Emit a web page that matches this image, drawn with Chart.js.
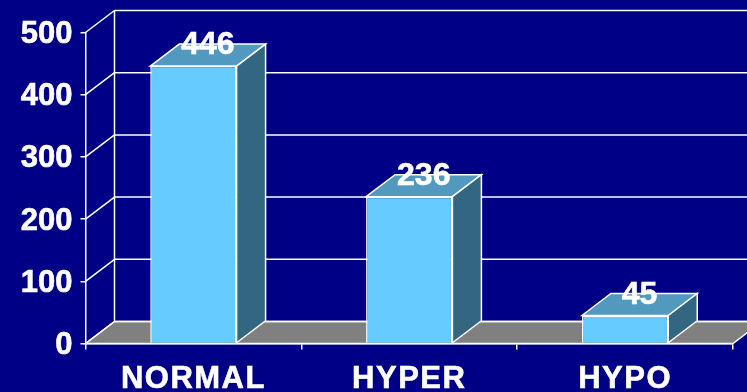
<!DOCTYPE html>
<html>
<head>
<meta charset="utf-8">
<style>
  html, body { margin: 0; padding: 0; background: #000086; overflow: hidden; }
  canvas { display: block; }
</style>
<script src="https://cdn.jsdelivr.net/npm/chart.js@4"></script>
</head>
<body>
<canvas id="kidneyChart" width="747" height="392"></canvas>
<script>
const categories = ['NORMAL', 'HYPER', 'HYPO'];
const counts = [446, 236, 45];
const yTicks = [0, 100, 200, 300, 400, 500];

// how far the back wall sits from the front plane
const DEPTH_X = 29;
const DEPTH_Y = -22;
const FONT = 'bold 32px "Liberation Sans", Arial, sans-serif';

function line(ctx, x1, y1, x2, y2) {
    ctx.beginPath();
    ctx.moveTo(x1, y1);
    ctx.lineTo(x2, y2);
    ctx.stroke();
}

function poly(ctx, pts) {
    ctx.beginPath();
    pts.forEach((p, i) => i ? ctx.lineTo(p[0], p[1]) : ctx.moveTo(p[0], p[1]));
    ctx.closePath();
    ctx.fill();
    ctx.stroke();
}

const box3d = {
    id: 'box3d',
    // floor and back wall go under the axes
    beforeDraw(chart) {
        const { ctx, scales: { x, y } } = chart;
        const left = x.left, right = x.right;
        const y0 = y.getPixelForValue(0);
        const yTop = y.getPixelForValue(yTicks[yTicks.length - 1]);
        ctx.save();
        ctx.strokeStyle = '#fff';
        ctx.lineWidth = 1.5;
        ctx.fillStyle = '#808080';
        poly(ctx, [[left, y0], [left + DEPTH_X, y0 + DEPTH_Y], [right + DEPTH_X, y0 + DEPTH_Y], [right, y0]]);
        yTicks.forEach(v => {
            const py = y.getPixelForValue(v);
            line(ctx, left, py, left + DEPTH_X, py + DEPTH_Y);
            line(ctx, left + DEPTH_X, py + DEPTH_Y, right + DEPTH_X, py + DEPTH_Y);
        });
        line(ctx, left + DEPTH_X, yTop + DEPTH_Y, left + DEPTH_X, y0 + DEPTH_Y);
        ctx.restore();

        // wider tracking on the category labels, y labels sit a bit lower
        if (!x._tweaked) {
            const drawX = x.drawLabels, drawY = y.drawLabels;
            x.drawLabels = function (area) {
                ctx.save();
                ctx.letterSpacing = '1.5px';
                drawX.call(this, area);
                ctx.restore();
            };
            y.drawLabels = function (area) {
                ctx.save();
                ctx.translate(0, 2);
                drawY.call(this, area);
                ctx.restore();
            };
            x._tweaked = true;
        }
    },
    beforeDatasetsDraw(chart) {
        const ctx = chart.ctx;
        ctx.save();
        ctx.strokeStyle = '#fff';
        ctx.lineWidth = 1.5;
        chart.getDatasetMeta(0).data.forEach(bar => {
            const l = bar.x - bar.width / 2, r = bar.x + bar.width / 2;
            ctx.fillStyle = '#5299BF';
            poly(ctx, [[l, bar.y], [l + DEPTH_X, bar.y + DEPTH_Y], [r + DEPTH_X, bar.y + DEPTH_Y], [r, bar.y]]);
            ctx.fillStyle = '#336680';
            poly(ctx, [[r, bar.y], [r + DEPTH_X, bar.y + DEPTH_Y], [r + DEPTH_X, bar.base + DEPTH_Y], [r, bar.base]]);
        });
        ctx.restore();
    },
    afterDatasetsDraw(chart) {
        const ctx = chart.ctx;
        ctx.save();
        ctx.font = FONT;
        ctx.fillStyle = '#fff';
        ctx.strokeStyle = '#fff';
        ctx.lineWidth = 0.6;
        ctx.textAlign = 'center';
        ctx.textBaseline = 'middle';
        chart.getDatasetMeta(0).data.forEach((bar, i) => {
            const tx = bar.x + DEPTH_X / 2, ty = bar.y + DEPTH_Y + 1.5;
            ctx.fillText(counts[i], tx, ty);
            ctx.strokeText(counts[i], tx, ty);
        });
        ctx.restore();
    }
};

const yFont = { family: '"Liberation Sans", Arial, sans-serif', size: 31, weight: 'bold' };
const xFont = { family: '"Liberation Sans", Arial, sans-serif', size: 31, weight: 'bold' };

new Chart(document.getElementById('kidneyChart').getContext('2d'), {
    type: 'bar',
    data: {
        labels: categories,
        datasets: [{
            data: counts,
            backgroundColor: '#66CCFF',
            borderColor: '#fff',
            borderWidth: 1.5,
            barPercentage: 0.4,
            categoryPercentage: 1
        }]
    },
    options: {
        responsive: false,
        animation: false,
        devicePixelRatio: 1,
        layout: { padding: { top: 32.5, right: 14, left: 0, bottom: 0 } },
        plugins: { legend: { display: false }, tooltip: { enabled: false } },
        scales: {
            x: {
                afterFit: s => { s.height = 48.5; },
                grid: { drawOnChartArea: false, color: '#fff', tickLength: 6, lineWidth: 1.5 },
                border: { color: '#fff', width: 1.5 },
                ticks: { color: '#fff', font: xFont, padding: 11, maxRotation: 0, textStrokeColor: '#fff', textStrokeWidth: 0.6 }
            },
            y: {
                min: 0,
                max: 500,
                afterFit: s => { s.width = 85.5; },
                grid: { drawOnChartArea: false, color: '#fff', tickLength: 5, lineWidth: 1.5 },
                border: { color: '#fff', width: 1.5 },
                ticks: { color: '#fff', font: yFont, padding: 8, stepSize: 100, textStrokeColor: '#fff', textStrokeWidth: 0.6 }
            }
        }
    },
    plugins: [box3d]
});
</script>
</body>
</html>
